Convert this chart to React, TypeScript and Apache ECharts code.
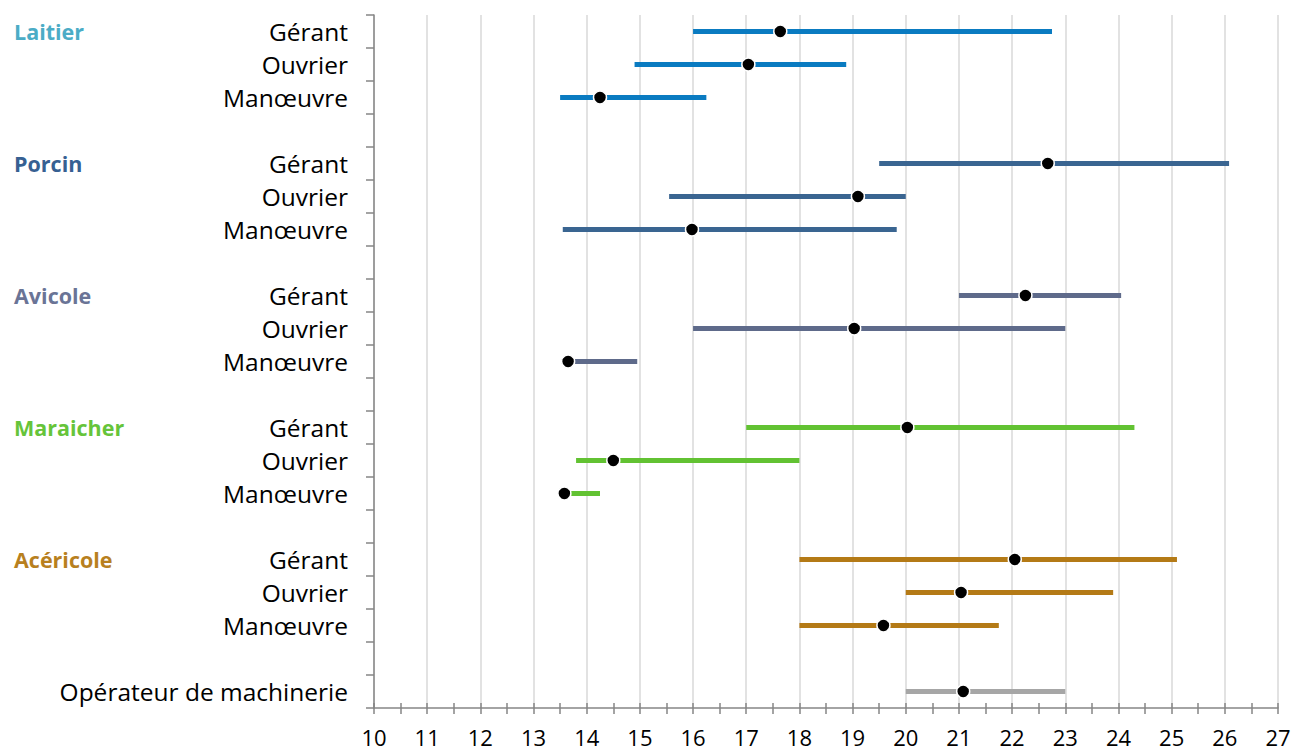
import React, { useEffect, useRef } from "react";
import * as echarts from "echarts";

// ---- Data ----
const sectors = ["Laitier", "Porcin", "Avicole", "Maraicher", "Acéricole"];
const sectorColors = ["#0A7BC1", "#3A6591", "#5E6A8A", "#62C232", "#B47A16"];
const sectorLabelColors = ["#4BACC6", "#366092", "#6A7496", "#66C43A", "#B8801E"];
const roles = ["Gérant", "Ouvrier", "Manœuvre"];
const operatorLabel = "Opérateur de machinerie";
const operatorColor = "#A6A6A6";

// rows: order Laitier(G,O,M), Porcin(G,O,M), Avicole, Maraicher, Acéricole, then Opérateur
const lows = [16.0, 14.9, 13.5, 19.5, 15.55, 13.55, 21.0, 16.0, 13.52, 17.0, 13.8, 13.55, 18.0, 20.0, 18.0, 20.0];
const highs = [22.75, 18.88, 16.25, 26.08, 20.0, 19.83, 24.05, 23.0, 14.95, 24.3, 18.0, 14.25, 25.1, 23.9, 21.75, 23.0];
const mids = [17.64, 17.04, 14.25, 22.67, 19.1, 15.98, 22.25, 19.03, 13.65, 20.03, 14.5, 13.58, 22.05, 21.04, 19.58, 21.08];

const xMin = 10;
const xMax = 27;

export default function App() {
  const ref = useRef<HTMLDivElement>(null);

  useEffect(() => {
    if (!ref.current) return;
    const chart = echarts.init(ref.current, null, { renderer: "svg" });

    const categories: string[] = [];
    const groupLabels: string[] = [];
    const groupColorBySlot: string[] = [];
    sectors.forEach((s, gi) => {
      roles.forEach((r, ri) => {
        categories.push(r);
        groupLabels.push(ri === 0 ? s : "");
        groupColorBySlot.push(sectorLabelColors[gi]);
      });
      categories.push("");
      groupLabels.push("");
      groupColorBySlot.push("#000");
    });
    categories.push(operatorLabel);
    groupLabels.push("");
    groupColorBySlot.push("#000");

    const rangeData: any[] = [];
    const dotData: any[] = [];
    lows.forEach((lo, i) => {
      const isOp = i >= sectors.length * roles.length;
      const gi = Math.floor(i / 3);
      const slot = isOp ? categories.length - 1 : gi * 4 + (i % 3);
      const color = isOp ? operatorColor : sectorColors[gi];
      rangeData.push({ value: [lo, highs[i], slot], itemStyle: { color } });
      dotData.push([mids[i], slot]);
    });

    const axisColor = "#868686";
    const font = "'Open Sans', 'Noto Sans', sans-serif";

    chart.setOption({
      animation: false,
      grid: { left: 374, right: 17, top: 15, bottom: 43, containLabel: false },
      xAxis: [
        {
          type: "value",
          min: xMin,
          max: xMax,
          interval: 1,
          position: "bottom",
          axisLine: { show: true, lineStyle: { color: axisColor, width: 1.5 } },
          axisTick: { show: true, inside: false, length: 6, lineStyle: { color: axisColor, width: 1.5 } },
          minorTick: { show: true, splitNumber: 2, length: 6, lineStyle: { color: axisColor, width: 1.5 } },
          splitLine: { show: true, lineStyle: { color: "#D9D9D9", width: 1.5 } },
          axisLabel: { color: "#000", fontSize: 22, lineHeight: 24, fontFamily: font, margin: 17 },
        },
        {
          type: "value",
          min: xMin,
          max: xMax,
          interval: 1,
          position: "bottom",
          axisLine: { show: false },
          axisTick: { show: true, inside: true, length: 5, lineStyle: { color: axisColor, width: 1.5 } },
          minorTick: { show: true, splitNumber: 2, length: 5, lineStyle: { color: axisColor, width: 1.5 } },
          splitLine: { show: false },
          axisLabel: { show: false },
        },
      ],
      yAxis: [
        {
          type: "category",
          data: categories,
          inverse: true,
          position: "left",
          axisLine: { show: true, lineStyle: { color: axisColor, width: 1.5 } },
          axisTick: { show: true, length: 8, lineStyle: { color: axisColor, width: 1.5 } },
          splitLine: { show: false },
          axisLabel: { color: "#000", fontSize: 24.5, fontFamily: font, margin: 26, interval: 0 },
        },
        {
          type: "category",
          data: groupLabels,
          inverse: true,
          position: "left",
          axisLine: { show: false },
          axisTick: { show: false },
          splitLine: { show: false },
          axisLabel: {
            interval: 0,
            align: "left",
            margin: 360,
            fontSize: 21.5,
            fontWeight: "bold",
            fontFamily: font,
            color: (_v: any, idx: number) => groupColorBySlot[idx],
          },
        },
      ],
      series: [
        {
          type: "custom",
          xAxisIndex: 0,
          yAxisIndex: 0,
          data: rangeData,
          encode: { x: [0, 1], y: 2 },
          renderItem: (params: any, api: any) => {
            const p1 = api.coord([api.value(0), api.value(2)]);
            const p2 = api.coord([api.value(1), api.value(2)]);
            return {
              type: "line",
              shape: { x1: p1[0], y1: p1[1], x2: p2[0], y2: p2[1] },
              style: { stroke: api.visual("color"), lineWidth: 5 },
            };
          },
          z: 2,
        },
        {
          type: "scatter",
          xAxisIndex: 0,
          yAxisIndex: 0,
          data: dotData,
          symbol: "circle",
          symbolSize: 13,
          itemStyle: { color: "#000", borderColor: "#FFFFFF", borderWidth: 1.5, opacity: 1 },
          z: 3,
        },
      ],
    });

    return () => chart.dispose();
  }, []);

  return (
    <div
      ref={ref}
      style={{ position: "absolute", left: 0, top: 0, width: 1295, height: 751, background: "#fff" }}
    />
  );
}
